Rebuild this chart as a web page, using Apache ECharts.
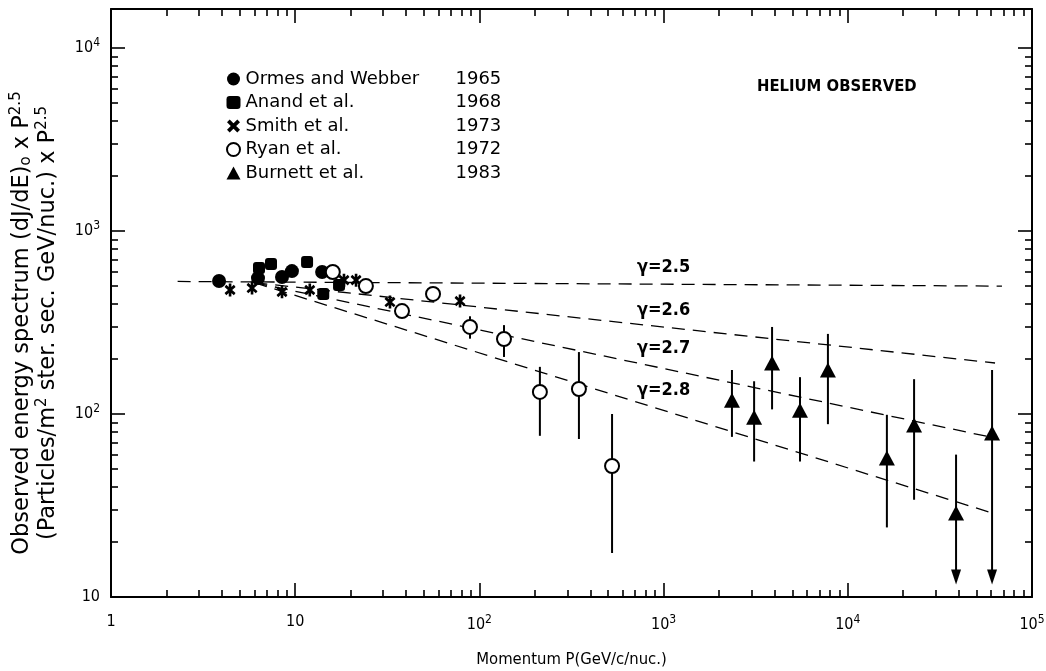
<!DOCTYPE html>
<html><head><meta charset="utf-8">
<script src="https://cdn.jsdelivr.net/npm/echarts@6/dist/echarts.min.js"></script>
<style>html,body{margin:0;padding:0;background:#fff}#c{width:1046px;height:671px}</style>
</head><body><div id="c"></div>
<script>
// ---------- data ----------
const seriesNames = ['Ormes and Webber', 'Anand et al.', 'Smith et al.', 'Ryan et al.', 'Burnett et al.'];
const seriesYears = ['1965', '1968', '1973', '1972', '1983'];
const ormes = [[3.86, 533], [6.28, 553], [8.48, 561], [9.6, 604], [14.0, 597]];
const anand = [[6.36, 628], [7.39, 661], [11.6, 677], [14.2, 453], [17.3, 507]];
const smith = [[4.43, 476], [5.83, 488], [8.48, 465], [12.0, 476], [18.4, 539], [21.4, 539], [32.7, 409], [78.5, 414]];
const ryan = [[16.0, 597], [24.2, 500], [38.0, 365], [56.0, 453], [88.9, 299], [136, 257], [213, 132], [347, 137], [525, 52]];
const ryanErr = [[88.9, 258, 342, 0], [136, 205, 306, 0], [213, 76, 181, 0], [347, 73, 218, 0], [525, 17.4, 100, 0]];
const burnett = [[2350, 119], [3100, 96], [3880, 190], [5500, 105], [7800, 174], [16300, 57.5], [22900, 87], [38700, 28.8], [60700, 78.7]];
const burnettErr = [[2350, 75, 174, 0], [3100, 55, 151, 0], [3880, 106, 299, 0], [5500, 55, 159, 0], [7800, 88, 274, 0],
  [16300, 24, 99, 0], [22900, 34, 155, 0], [38700, 11.7, 60, 1], [60700, 11.7, 174, 1]];
const gammaNames = ['γ=2.5', 'γ=2.6', 'γ=2.7', 'γ=2.8'];
const gammaLines = [
  [[2.3, 530], [68700, 500]],
  [[6.0, 522], [63000, 190]],
  [[6.0, 522], [59200, 74.9]],
  [[6.0, 522], [60700, 28.8]]
];
const xMajor = [1, 10, 100, 1000, 10000, 100000];
const yMajor = [10, 100, 1000, 10000];
const xRange = [1, 100000];
const yRange = [10, 16340];
const annotationText = 'HELIUM OBSERVED';
const xTitle = 'Momentum P(GeV/c/nuc.)';
const yTitle = 'Observed energy spectrum (dJ/dE){sub|o} x P{sup|2.5}\n(Particles/m{sup|2} ster. sec. GeV/nuc.) x P{sup|2.5}';

// ---------- helpers ----------
const FONT = "'DejaVu Sans Condensed','Liberation Sans Narrow','DejaVu Sans',sans-serif";
const WIDE = "'DejaVu Sans',sans-serif";
function minors(range) {
  const out = [];
  for (let d = 1; d <= 1e5; d *= 10) for (let k = 2; k <= 9; k++) {
    const v = k * d; if (v > range[0] && v < range[1]) out.push(v);
  }
  return out;
}
function powLabel(v) {
  if (v === 1) return '1';
  if (v === 10) return '10';
  return '10{s|' + Math.round(Math.log10(v)) + '}';
}
const labelRich = { s: { fontSize: 12, fontFamily: FONT, color: '#000', padding: [0, 0, 10, 0] } };
const lineC = '#000';

function axisBase(pos, range, major, isMinor, withLabels, margin) {
  return {
    type: 'log', logBase: 10, min: range[0], max: range[1], position: pos,
    axisLine: { show: !isMinor, onZero: false, lineStyle: { color: lineC, width: 2 } },
    axisTick: { show: true, inside: true, length: isMinor ? 7 : 14,
      customValues: isMinor ? minors(range) : major, lineStyle: { color: lineC, width: 1.6 } },
    axisLabel: withLabels ? { show: true, customValues: major, formatter: powLabel, rich: labelRich,
      fontSize: 16, fontFamily: FONT, color: '#000', margin: margin } : { show: false },
    splitLine: { show: false }, minorTick: { show: false }
  };
}

const xAxes = [
  Object.assign(axisBase('bottom', xRange, xMajor, false, true, 17), {
    name: xTitle, nameLocation: 'middle', nameGap: 54,
    nameTextStyle: { fontSize: 16.5, fontFamily: FONT, color: '#000' } }),
  axisBase('bottom', xRange, xMajor, true, false),
  axisBase('top', xRange, xMajor, false, false),
  axisBase('top', xRange, xMajor, true, false)
];
const yAxes = [
  Object.assign(axisBase('left', yRange, yMajor, false, true, 11), {
    name: yTitle,
    nameLocation: 'middle', nameRotate: 90, nameGap: 50,
    nameTextStyle: { fontSize: 22.5, fontFamily: WIDE, color: '#000', lineHeight: 26, align: 'center',
      padding: [0, 40, 0, 0],
      rich: {
        sub: { fontSize: 15, fontFamily: WIDE, color: '#000', lineHeight: 26, padding: [8, 0, 0, 0] },
        sup: { fontSize: 15, fontFamily: WIDE, color: '#000', lineHeight: 26, padding: [0, 0, 12, 0] }
      } } }),
  axisBase('left', yRange, yMajor, true, false),
  axisBase('right', yRange, yMajor, false, false),
  axisBase('right', yRange, yMajor, true, false)
];

const asteriskPath = 'path://M3.76,4.86 L5.44,2.86 L-3.76,-4.86 L-5.44,-2.86 Z M-3.76,4.86 L5.44,-2.86 L3.76,-4.86 L-5.44,2.86 Z M-1.3,-6 L-1.3,6 L1.3,6 L1.3,-6 Z';
const crossPath = 'path://M2.62,4.46 L4.46,2.62 L-2.62,-4.46 L-4.46,-2.62 Z M-2.62,4.46 L4.46,-2.62 L2.62,-4.46 L-4.46,2.62 Z';

function errRender(params, api) {
  const x = api.value(0), lo = api.value(1), hi = api.value(2), arrow = api.value(3);
  const a = api.coord([x, hi]), b = api.coord([x, lo]);
  const ch = [{ type: 'line', shape: { x1: a[0], y1: a[1], x2: b[0], y2: b[1] - (arrow ? 6 : 0) },
    style: { stroke: '#000', lineWidth: 2 } }];
  if (arrow) ch.push({ type: 'polygon', shape: { points: [[b[0] - 5, b[1] - 15], [b[0] + 5, b[1] - 15], [b[0], b[1]]] },
    style: { fill: '#000' } });
  return { type: 'group', children: ch };
}

const series = [];
gammaLines.forEach((d, i) => series.push({
  name: gammaNames[i], type: 'line', data: d, symbol: 'none', silent: true, z: 1,
  lineStyle: { color: '#000', width: 1.3, type: [13, 8] }
}));
[ryanErr, burnettErr].forEach((d, i) => series.push({
  name: 'err' + i, type: 'custom', data: d, renderItem: errRender, z: 2, silent: true,
  encode: { x: 0, y: [1, 2] }
}));
const solid = { color: '#000', opacity: 1 };
series.push({ name: seriesNames[0], type: 'scatter', data: ormes, symbol: 'circle', symbolSize: 14,
  itemStyle: solid, z: 5 });
series.push({ name: seriesNames[1], type: 'scatter', data: anand, symbol: 'roundRect', symbolSize: 12,
  itemStyle: solid, z: 5 });
series.push({ name: seriesNames[2], type: 'scatter', data: smith, symbol: asteriskPath, symbolSize: [11, 13],
  itemStyle: solid, z: 5 });
series.push({ name: seriesNames[3], type: 'scatter', data: ryan, symbol: 'emptyCircle', symbolSize: 14,
  itemStyle: { color: '#000', borderColor: '#000', borderWidth: 2, opacity: 1 }, z: 6 });
series.push({ name: seriesNames[4], type: 'scatter', data: burnett, symbol: 'triangle', symbolSize: [16, 15],
  itemStyle: solid, z: 6 });

const legendIcons = ['circle', 'roundRect', crossPath, 'emptyCircle', 'triangle'];

const option = {
  animation: false,
  backgroundColor: '#fff',
  grid: { left: 111, right: 14, top: 9, bottom: 74, containLabel: false, outerBoundsMode: 'none' },
  xAxis: xAxes,
  yAxis: yAxes,
  legend: {
    orient: 'vertical', left: 221, top: 65, itemWidth: 14, itemHeight: 13, itemGap: 5.5,
    data: seriesNames.map((n, i) => ({ name: n, icon: legendIcons[i] })),
    formatter: name => '{n|' + name + '}{y|' + seriesYears[seriesNames.indexOf(name)] + '}',
    textStyle: { color: '#000', fontFamily: WIDE, fontSize: 18, lineHeight: 18,
      rich: { n: { width: 210, fontSize: 18, lineHeight: 18, fontFamily: WIDE, color: '#000' },
              y: { fontSize: 18, lineHeight: 18, fontFamily: WIDE, color: '#000' } } },
    selectedMode: false
  },
  graphic: [
    { type: 'text', left: 757, top: 78, style: { text: annotationText, font: 'bold 16.5px ' + FONT, fill: '#000' } },
    { type: 'text', left: 637, top: 258, style: { text: gammaNames[0], font: 'bold 18px ' + FONT, fill: '#000' } },
    { type: 'text', left: 637, top: 301, style: { text: gammaNames[1], font: 'bold 18px ' + FONT, fill: '#000' } },
    { type: 'text', left: 637, top: 339, style: { text: gammaNames[2], font: 'bold 18px ' + FONT, fill: '#000' } },
    { type: 'text', left: 637, top: 381, style: { text: gammaNames[3], font: 'bold 18px ' + FONT, fill: '#000' } }
  ],
  series: series
};
const chart = echarts.init(document.getElementById('c'), null, { renderer: 'canvas' });
chart.setOption(option);
</script></body></html>
